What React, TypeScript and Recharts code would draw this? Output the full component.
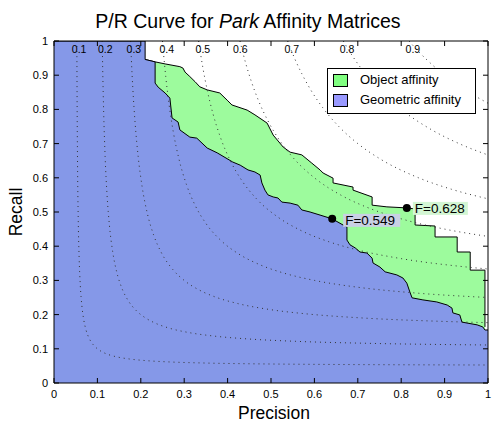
import {
  ComposedChart,
  Area,
  Line,
  XAxis,
  YAxis,
  ReferenceDot,
  Legend,
} from 'recharts';

// axis ticks
const ticks = [0, 0.1, 0.2, 0.3, 0.4, 0.5, 0.6, 0.7, 0.8, 0.9, 1];

// Object affinity P/R curve
const objectPrecision = [
  0.21, 0.233, 0.256, 0.29, 0.297, 0.302, 0.313, 0.325, 0.336, 0.353, 0.382, 0.399,
  0.41, 0.445, 0.463, 0.491, 0.505, 0.528, 0.544, 0.571, 0.594, 0.613, 0.62, 0.643,
  0.643, 0.689, 0.689, 0.733, 0.733, 0.767, 0.813, 0.832, 0.832, 0.878, 0.878, 0.929,
  0.929, 0.959, 0.959, 0.993, 0.993,
];
const objectRecall = [
  0.946, 0.939, 0.933, 0.925, 0.921, 0.909, 0.896, 0.881, 0.866, 0.857, 0.848, 0.827,
  0.813, 0.798, 0.784, 0.76, 0.725, 0.69, 0.675, 0.667, 0.643, 0.623, 0.614, 0.599,
  0.585, 0.573, 0.564, 0.544, 0.52, 0.515, 0.512, 0.509, 0.462, 0.459, 0.427, 0.427,
  0.383, 0.383, 0.33, 0.33, 0.164,
];

// Geometric affinity P/R curve
const geometricPrecision = [
  0, 0.21, 0.21, 0.233, 0.233, 0.24, 0.256, 0.267, 0.272, 0.286, 0.29, 0.313, 0.329,
  0.353, 0.376, 0.412, 0.429, 0.447, 0.463, 0.475, 0.479, 0.486, 0.493, 0.505, 0.516,
  0.525, 0.544, 0.562, 0.571, 0.59, 0.613, 0.641, 0.666, 0.675, 0.675, 0.682, 0.694,
  0.705, 0.721, 0.733, 0.735, 0.751, 0.763, 0.79, 0.804, 0.813, 0.82, 0.825, 0.85,
  0.882, 0.906, 0.917, 0.919, 0.935, 0.94, 0.975, 0.988, 0.993, 1,
];
const geometricRecall = [
  1, 1, 0.946, 0.939, 0.877, 0.865, 0.848, 0.833, 0.775, 0.763, 0.74, 0.719, 0.716,
  0.687, 0.673, 0.646, 0.637, 0.623, 0.617, 0.608, 0.585, 0.564, 0.55, 0.544, 0.541,
  0.529, 0.526, 0.52, 0.506, 0.5, 0.491, 0.48, 0.462, 0.456, 0.418, 0.404, 0.395,
  0.383, 0.38, 0.365, 0.351, 0.339, 0.325, 0.316, 0.307, 0.292, 0.266, 0.249, 0.243,
  0.237, 0.228, 0.219, 0.205, 0.199, 0.178, 0.17, 0.164, 0.155, 0.155,
];

// iso-F contour levels and where their labels sit
const isoLevels = [0.1, 0.2, 0.3, 0.4, 0.5, 0.6, 0.7, 0.8, 0.9];
const isoLabelPrecision = [0.058, 0.118, 0.184, 0.26, 0.343, 0.429, 0.548, 0.675, 0.827];
const isoSteps = [1, 1.01, 1.03, 1.06, 1.1, 1.15, 1.22, 1.3, 1.4, 1.55, 1.7, 1.9, 2.1, 2.4, 2.8, 3.3, 4, 5, 6.5, 8.5, 11, 15, 20];

// best F points
const bestPrecision = [0.813, 0.641];
const bestRecall = [0.512, 0.48];
const bestLabels = ['F=0.628', 'F=0.549'];
const bestLabelBg = ['#d3f6d3', '#c9d0e4'];

const FONT = '"Liberation Sans", Arial, Helvetica, sans-serif';

const isoCurve = (f: number) => {
  const pMin = f / (2 - f);
  const pts = isoSteps.map((s) => pMin * s).filter((p) => p < 1);
  pts.push(1);
  return pts.map((p) => ({ p, r: (f * p) / (2 * p - f) }));
};

const BottomTick = ({ x, y, payload }: any) => (
  <g>
    <line x1={x} y1={y} x2={x} y2={y - 5} stroke="#000" />
    <text x={x} y={y + 15} textAnchor="middle" fontSize={11} fill="#000" fontFamily={FONT}>
      {String(payload.value)}
    </text>
  </g>
);

const LeftTick = ({ x, y, payload }: any) => (
  <g>
    <line x1={x} y1={y} x2={x + 5} y2={y} stroke="#000" />
    <text x={x - 6} y={y + 4} textAnchor="end" fontSize={11} fill="#000" fontFamily={FONT}>
      {String(payload.value)}
    </text>
  </g>
);

const TopTick = ({ x, y }: any) => <line x1={x} y1={y} x2={x} y2={y + 5} stroke="#000" />;
const RightTick = ({ x, y }: any) => <line x1={x} y1={y} x2={x - 5} y2={y} stroke="#000" />;

const XTitle = ({ viewBox }: any) => (
  <text x={viewBox.x + 220} y={viewBox.y + 36} textAnchor="middle" fontSize={17.5} fill="#000" fontFamily={FONT}>
    Precision
  </text>
);

// y label, plus the chart title placed relative to the plot top
const YTitle = ({ viewBox }: any) => {
  const cx = 22;
  const cy = viewBox.y + viewBox.height / 2;
  return (
    <g>
      <text x={cx} y={cy} transform={`rotate(-90, ${cx}, ${cy})`} textAnchor="middle" fontSize={17.5} fill="#000" fontFamily={FONT}>
        Recall
      </text>
      <text x={248} y={viewBox.y - 13.5} textAnchor="middle" fontSize={19.5} fill="#000" fontFamily={FONT}>
        P/R Curve for <tspan fontStyle="italic">Park</tspan> Affinity Matrices
      </text>
    </g>
  );
};

const bestLabel = (i: number) => ({ viewBox }: any) => {
  const cx = viewBox.x + viewBox.width / 2;
  const cy = viewBox.y + viewBox.height / 2;
  const bx = i === 0 ? cx + 6 : cx + 11;
  const by = i === 0 ? cy - 6 : cy - 5;
  return (
    <g>
      <rect x={bx} y={by} width={i === 0 ? 55 : 57} height={13} fill={bestLabelBg[i]} />
      <text x={bx + 2} y={by + 11} fontSize={13.5} fill="#000" fontFamily={FONT}>
        {bestLabels[i]}
      </text>
    </g>
  );
};

const LegendBox = () => (
  <div
    style={{
      width: 147,
      height: 44,
      border: '1px solid #000',
      background: '#fff',
      fontFamily: FONT,
      fontSize: 13,
      position: 'relative',
    }}
  >
    {[
      { name: 'Object affinity', color: '#80ff80' },
      { name: 'Geometric affinity', color: '#9999ff' },
    ].map((e, i) => (
      <div key={e.name} style={{ position: 'absolute', left: 5, top: 4 + i * 20, height: 14, display: 'flex', alignItems: 'center' }}>
        <span style={{ display: 'inline-block', width: 13, height: 11, background: e.color, border: '1px solid #000' }} />
        <span style={{ marginLeft: 12, lineHeight: '14px', color: '#000' }}>{e.name}</span>
      </div>
    ))}
  </div>
);

export default function App() {
  const objectData = objectPrecision.map((p, i) => ({ p, r: objectRecall[i] }));
  const geometricData = geometricPrecision.map((p, i) => ({ p, r: geometricRecall[i] }));

  return (
    <div style={{ position: 'absolute', left: 0, top: 0, width: 494, height: 425, background: '#fff' }}>
      <ComposedChart width={494} height={425} margin={{ top: 40, right: 5, bottom: 0, left: 0 }} style={{ fontFamily: FONT }}>
        <Area
          data={objectData}
          dataKey="r"
          type="linear"
          fill="#9dfb9d"
          fillOpacity={1}
          stroke="#000"
          strokeWidth={1}
          isAnimationActive={false}
        />
        <Area
          data={geometricData}
          dataKey="r"
          type="linear"
          fill="#8598e8"
          fillOpacity={1}
          stroke="#000"
          strokeWidth={1}
          isAnimationActive={false}
        />
        {isoLevels.map((f) => (
          <Line
            key={f}
            data={isoCurve(f)}
            dataKey="r"
            type="monotone"
            stroke="#333"
            strokeWidth={1}
            strokeDasharray="1 4"
            dot={false}
            isAnimationActive={false}
          />
        ))}
        {isoLevels.map((f, i) => (
          <ReferenceDot
            key={'l' + f}
            x={isoLabelPrecision[i]}
            y={0.977}
            r={0}
            fill="none"
            stroke="none"
            label={{ value: String(f), position: 'center', fontSize: 10.5, fill: '#000', fontFamily: FONT }}
          />
        ))}
        {bestPrecision.map((p, i) => (
          <ReferenceDot key={bestLabels[i]} x={p} y={bestRecall[i]} r={4} fill="#000" stroke="none" label={{ content: bestLabel(i) }} />
        ))}
        <XAxis
          dataKey="p"
          type="number"
          domain={[0, 1]}
          ticks={ticks}
          height={42}
          tickSize={0}
          tickMargin={0}
          tickLine={false}
          tick={<BottomTick />}
          axisLine={{ stroke: '#000' }}
          allowDataOverflow
          label={{ content: <XTitle /> }}
        />
        <XAxis
          xAxisId="top"
          orientation="top"
          dataKey="p"
          type="number"
          domain={[0, 1]}
          ticks={ticks}
          height={1}
          tickSize={0}
          tickMargin={0}
          tickLine={false}
          tick={<TopTick />}
          axisLine={{ stroke: '#000' }}
          allowDataOverflow
        />
        <YAxis
          type="number"
          domain={[0, 1]}
          ticks={ticks}
          width={54}
          tickSize={0}
          tickMargin={0}
          tickLine={false}
          tick={<LeftTick />}
          axisLine={{ stroke: '#000' }}
          allowDataOverflow
          label={{ content: <YTitle /> }}
        />
        <YAxis
          yAxisId="right"
          orientation="right"
          type="number"
          domain={[0, 1]}
          ticks={ticks}
          width={1}
          tickSize={0}
          tickMargin={0}
          tickLine={false}
          tick={<RightTick />}
          axisLine={{ stroke: '#000' }}
          allowDataOverflow
        />
        <Legend
          layout="vertical"
          align="center"
          verticalAlign="middle"
          content={<LegendBox />}
          wrapperStyle={{ left: 327, top: 68, width: 149, height: 46 }}
        />
      </ComposedChart>
    </div>
  );
}
